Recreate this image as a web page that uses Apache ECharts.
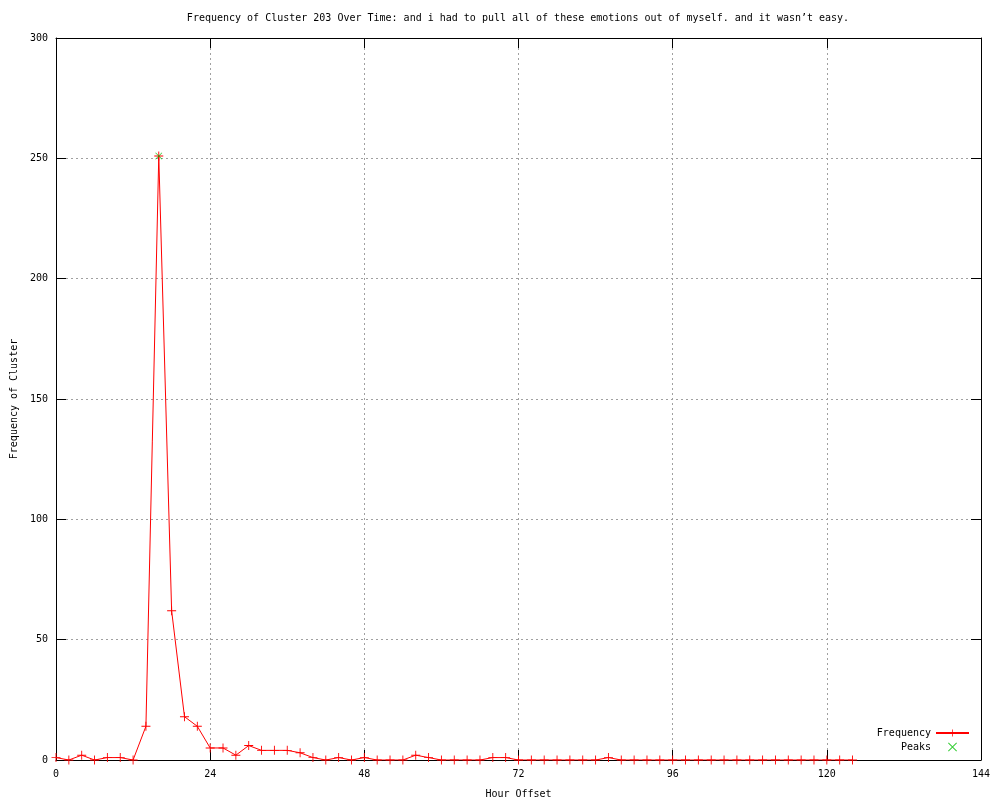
<!DOCTYPE html>
<html>
<head>
<meta charset="utf-8">
<script src="https://cdn.jsdelivr.net/npm/echarts@6/dist/echarts.min.js"></script>
<style>html,body{margin:0;padding:0;background:#fff}#c{width:1000px;height:800px}</style>
</head>
<body>
<div id="c"></div>
<script>
const hours = [0,2,4,6,8,10,12,14,16,18,20,22,24,26,28,30,32,34,36,38,40,42,44,46,48,50,52,54,56,58,60,62,64,66,68,70,72,74,76,78,80,82,84,86,88,90,92,94,96,98,100,102,104,106,108,110,112,114,116,118,120,122,124];
const frequency = [1,0,2,0,1,1,0,14,251,62,18,14,5,5,2,6,4,4,4,3,1,0,1,0,1,0,0,0,2,1,0,0,0,0,1,1,0,0,0,0,0,0,0,1,0,0,0,0,0,0,0,0,0,0,0,0,0,0,0,0,0,0,0];
const peakHours = [16];
const peakValues = [251];
const xTicks = [0,24,48,72,96,120,144];
const yTicks = [0,50,100,150,200,250,300];

const FONT = 'DejaVu Sans Mono';
const FS = 10;
const plusPath = 'path://M-1,-10H1V-1H10V1H1V10H-1V1H-10V-1H-1Z';
const crossPath = 'path://M-10,-8.5L-8.5,-10L0,-1.5L8.5,-10L10,-8.5L1.5,0L10,8.5L8.5,10L0,1.5L-8.5,10L-10,8.5L-1.5,0Z';
const chart = echarts.init(document.getElementById('c'));
const gridLine = {show:true, lineStyle:{color:'#a0a0a0', type:[2,3], width:1}};
const tick = {show:true, inside:true, length:10, lineStyle:{color:'#000', width:1}};
const axLine = {show:true, onZero:false, lineStyle:{color:'#000', width:1}};
chart.setOption({
  animation:false,
  backgroundColor:'#ffffff',
  title:{text:'Frequency of Cluster 203 Over Time: and i had to pull all of these emotions out of myself. and it wasn\u2019t easy.',
    left:513, top:8, textAlign:'center',
    textStyle:{fontFamily:FONT, fontSize:FS, fontWeight:'normal', color:'#000'}},
  grid:{left:56, right:19, top:38, bottom:40, containLabel:false, outerBoundsMode:'none'},
  legend:{orient:'vertical', right:25, bottom:43, align:'right', itemWidth:33, itemHeight:9, itemGap:4,
    textStyle:{fontFamily:FONT, fontSize:FS, color:'#000'},
    data:['Frequency','Peaks']},
  xAxis:[{type:'value', min:0, max:144, interval:24, position:'bottom',
    name:'Hour Offset', nameLocation:'middle', nameGap:29,
    nameTextStyle:{fontFamily:FONT, fontSize:FS, color:'#000'},
    axisLine:axLine, axisTick:tick,
    axisLabel:{fontFamily:FONT, fontSize:FS, color:'#000', margin:9,
      formatter:v=>xTicks.includes(v)?String(v):''},
    splitLine:gridLine},
   {type:'value', min:0, max:144, interval:24, position:'top',
    axisLine:axLine, axisTick:tick,
    axisLabel:{show:false}, splitLine:{show:false}}],
  yAxis:[{type:'value', min:0, max:300, interval:50, position:'left',
    name:'Frequency of Cluster', nameLocation:'middle', nameGap:37, nameRotate:90,
    nameTextStyle:{fontFamily:FONT, fontSize:FS, color:'#000'},
    axisLine:axLine, axisTick:tick,
    axisLabel:{fontFamily:FONT, fontSize:FS, color:'#000', margin:8,
      formatter:v=>yTicks.includes(v)?String(v):''},
    splitLine:gridLine},
   {type:'value', min:0, max:300, interval:50, position:'right', offset:0,
    axisLine:axLine, axisTick:tick,
    axisLabel:{show:false}, splitLine:{show:false}}],
  series:[
    {name:'Frequency', type:'line', xAxisIndex:0, yAxisIndex:0,
      data:hours.map((h,i)=>[h, frequency[i]]),
      symbol:plusPath, symbolSize:9, showSymbol:true,
      lineStyle:{color:'#ff0000', width:1}, itemStyle:{color:'#ff0000'}, color:'#ff0000', z:2},
    {name:'Peaks', type:'scatter', xAxisIndex:0, yAxisIndex:0,
      data:peakHours.map((h,i)=>[h, peakValues[i]]),
      symbol:crossPath, symbolSize:7,
      itemStyle:{color:'#00c000'}, color:'#00c000', z:3}
  ]
});
</script>
</body>
</html>
